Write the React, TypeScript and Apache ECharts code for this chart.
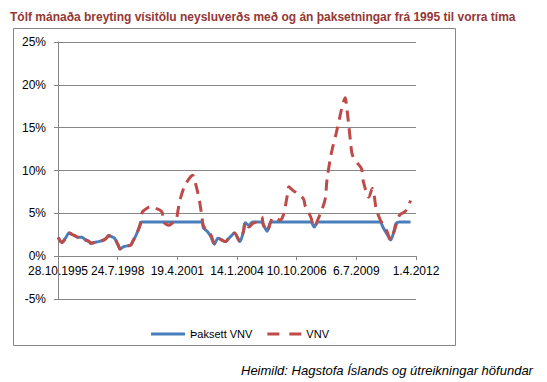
import React, { useEffect, useRef } from "react";
import * as echarts from "echarts";

const titleText =
  "Tólf mánaða breyting vísitölu neysluverðs með og án þaksetningar frá 1995 til vorra tíma";
const sourceText = "Heimild: Hagstofa Íslands og útreikningar höfundar";
const seriesNames = ["Þaksett VNV", "VNV"];
const yTicks = [-5, 0, 5, 10, 15, 20, 25];
const axisStart = "1995-10-28";
const axisEnd = "2012-04-01";
const tickStepDays = 1000;

const vnv: [string, number][] = [
  ["1995-11", 2.2], ["1996-01", 1.6], ["1996-03", 2.1], ["1996-05", 2.7], ["1996-07", 2.5],
  ["1996-08", 2.4], ["1996-10", 2.2], ["1996-12", 2.2], ["1997-02", 1.9], ["1997-04", 1.7],
  ["1997-05", 1.5], ["1997-07", 1.6], ["1997-09", 1.7], ["1997-11", 1.8], ["1998-01", 2.0],
  ["1998-03", 2.4], ["1998-04", 2.3], ["1998-06", 2.1], ["1998-08", 1.3], ["1998-09", 0.85],
  ["1998-11", 1.1], ["1999-01", 1.2], ["1999-03", 1.3], ["1999-04", 1.7], ["1999-06", 2.5],
  ["1999-08", 3.6], ["1999-09", 5.0], ["1999-10", 5.3], ["2000-02", 5.8], ["2000-04", 5.65],
  ["2000-08", 5.2], ["2000-09", 4.0], ["2000-12", 3.6], ["2001-02", 3.9], ["2001-04", 4.3],
  ["2001-05", 5.4], ["2001-06", 6.5], ["2001-08", 7.9], ["2001-09", 8.4], ["2001-12", 9.3],
  ["2002-01", 9.45], ["2002-02", 8.9], ["2002-04", 7.3], ["2002-05", 6.2], ["2002-06", 4.8],
  ["2002-07", 3.5], ["2002-09", 3.0], ["2002-11", 2.5], ["2003-01", 1.5], ["2003-03", 2.1],
  ["2003-05", 1.9], ["2003-07", 1.7], ["2003-09", 2.1], ["2003-10", 2.3], ["2003-12", 2.7],
  ["2004-03", 1.8], ["2004-05", 2.9], ["2004-06", 4.0], ["2004-08", 3.4], ["2004-10", 3.8],
  ["2004-12", 4.0], ["2005-03", 4.6], ["2005-04", 3.6], ["2005-06", 2.9], ["2005-08", 4.0],
  ["2005-09", 4.5], ["2005-11", 4.4], ["2006-01", 4.2], ["2006-03", 4.8], ["2006-05", 6.9],
  ["2006-06", 8.1], ["2006-08", 7.7], ["2006-10", 7.4], ["2007-02", 6.7], ["2007-03", 5.9],
  ["2007-06", 4.6], ["2007-08", 3.4], ["2007-10", 4.3], ["2007-12", 5.3], ["2008-02", 6.7],
  ["2008-03", 8.9], ["2008-05", 11.6], ["2008-06", 12.6], ["2008-08", 14.3], ["2008-10", 16.2],
  ["2008-11", 17.2], ["2008-12", 18.0], ["2009-01", 18.5], ["2009-02", 17.0], ["2009-03", 15.3],
  ["2009-04", 13.3], ["2009-05", 11.8], ["2009-08", 10.8], ["2009-10", 10.2], ["2009-11", 8.7],
  ["2010-02", 6.9], ["2010-04", 7.9], ["2010-05", 7.1], ["2010-06", 5.6], ["2010-08", 4.4],
  ["2010-10", 3.6], ["2010-12", 2.9], ["2011-02", 1.9], ["2011-04", 2.9], ["2011-05", 3.6],
  ["2011-07", 4.8], ["2011-10", 5.2], ["2011-12", 6.0], ["2012-01", 6.5],
];

const capped: [string, number][] = [
  ["1995-11", 2.2], ["1996-01", 1.6], ["1996-03", 2.1], ["1996-05", 2.7], ["1996-07", 2.5],
  ["1996-08", 2.4], ["1996-10", 2.2], ["1996-12", 2.2], ["1997-02", 1.9], ["1997-04", 1.7],
  ["1997-05", 1.5], ["1997-07", 1.6], ["1997-09", 1.7], ["1997-11", 1.8], ["1998-01", 2.0],
  ["1998-03", 2.4], ["1998-04", 2.3], ["1998-06", 2.1], ["1998-08", 1.3], ["1998-09", 0.85],
  ["1998-11", 1.1], ["1999-01", 1.2], ["1999-03", 1.3], ["1999-04", 1.7], ["1999-06", 2.5],
  ["1999-08", 3.6], ["1999-09", 4.0], ["2000-06", 4.0], ["2001-06", 4.0], ["2002-06", 4.0],
  ["2002-07", 3.3], ["2002-09", 2.9], ["2002-11", 2.3], ["2003-01", 1.4], ["2003-03", 2.1],
  ["2003-05", 1.9], ["2003-07", 1.7], ["2003-09", 2.1], ["2003-10", 2.3], ["2003-12", 2.7],
  ["2004-03", 1.7], ["2004-05", 2.9], ["2004-06", 3.9], ["2004-08", 3.6], ["2004-10", 4.0],
  ["2004-12", 4.0], ["2005-03", 4.0], ["2005-04", 3.7], ["2005-06", 2.9], ["2005-08", 4.0],
  ["2005-09", 4.0], ["2006-06", 4.0], ["2007-06", 4.0], ["2007-08", 3.4], ["2007-10", 4.0],
  ["2008-06", 4.0], ["2009-06", 4.0], ["2010-08", 4.0], ["2010-10", 3.3], ["2010-12", 2.6],
  ["2011-02", 1.9], ["2011-04", 3.0], ["2011-05", 3.8], ["2011-07", 4.0], ["2011-10", 4.0],
  ["2012-01", 4.0],
];

const DAY = 86400000;
const parse = (s: string) => {
  const p = s.split("-").map(Number);
  return Date.UTC(p[0], p[1] - 1, p[2] || 1);
};
const origin = parse(axisStart);
const toDays = (s: string) => (parse(s) - origin) / DAY;
const fmt = (v: number) => {
  const d = new Date(origin + Math.round(v) * DAY);
  return `${d.getUTCDate()}.${d.getUTCMonth() + 1}.${d.getUTCFullYear()}`;
};

const FONT = "'Liberation Sans', Arial, sans-serif";
const GREY = "#868686";
const BLUE = "#4A7EBB";
const RED = "#BE4B48";

const GRID_TOP = 42;
const GRID_BOTTOM = 83;
const CHART_H = 382;

export default function App() {
  const ref = useRef<HTMLDivElement>(null);
  useEffect(() => {
    if (!ref.current) return;
    const chart = echarts.init(ref.current, null, { renderer: "svg" });
    const yMin = yTicks[0];
    const yMax = yTicks[yTicks.length - 1];
    const plotH = CHART_H - GRID_TOP - GRID_BOTTOM;
    // distance from the bottom of the plot to the 0 line, from the y scale
    const zeroOffset = (plotH * (0 - yMin)) / (yMax - yMin);
    chart.setOption({
      animation: false,
      backgroundColor: "#ffffff",
      title: {
        text: titleText,
        left: 5,
        top: 6,
        textStyle: { fontFamily: FONT, fontSize: 12, fontWeight: "bold", color: "#953735" },
      },
      graphic: [
        {
          type: "rect",
          shape: { x: 13.5, y: 28.5, width: 442, height: 317 },
          style: { fill: "none", stroke: GREY, lineWidth: 1 },
          silent: true,
        },
        {
          type: "text",
          left: 241,
          top: 364,
          style: {
            text: sourceText,
            font: `italic 13px ${FONT}`,
            fill: "#000000",
          },
        },
      ],
      legend: {
        left: 146,
        top: 323.5,
        itemWidth: 34,
        itemHeight: 3,
        itemGap: 15,
        symbolKeepAspect: false,
        data: [
          { name: seriesNames[0], icon: "path://M0,0H34V3H0Z" },
          { name: seriesNames[1], icon: "path://M0,0H12V3H0Z M22,0H34V3H22Z" },
        ],
        textStyle: { fontFamily: FONT, fontSize: 11, color: "#000" },
      },
      grid: { left: 58, right: 131, top: GRID_TOP, bottom: GRID_BOTTOM },
      xAxis: {
        type: "value",
        position: "bottom",
        offset: -zeroOffset,
        min: 0,
        max: toDays(axisEnd),
        interval: tickStepDays,
        axisLine: { onZero: false, lineStyle: { color: GREY, width: 1 } },
        axisTick: { show: true, length: 4, lineStyle: { color: GREY } },
        splitLine: { show: false },
        axisLabel: {
          formatter: fmt,
          margin: 9,
          fontFamily: FONT,
          fontSize: 12,
          color: "#000",
          showMinLabel: true,
          showMaxLabel: true,
        },
      },
      yAxis: {
        type: "value",
        min: yMin,
        max: yMax,
        interval: 5,
        axisLine: { show: true, onZero: false, lineStyle: { color: GREY, width: 1 } },
        axisTick: { show: true, length: 4, lineStyle: { color: GREY } },
        splitLine: { show: true, lineStyle: { color: GREY, width: 1 } },
        axisLabel: {
          formatter: (v: number) => `${v}%`,
          margin: 12,
          fontFamily: FONT,
          fontSize: 12,
          color: "#000",
        },
      },
      series: [
        {
          name: seriesNames[0],
          type: "line",
          symbol: "none",
          smooth: 0.3,
          data: capped.map(([d, v]) => [toDays(d), v]),
          lineStyle: { color: BLUE, width: 3 },
          itemStyle: { color: BLUE },
          z: 2,
        },
        {
          name: seriesNames[1],
          type: "line",
          symbol: "none",
          smooth: 0.3,
          data: vnv.map(([d, v]) => [toDays(d), v]),
          lineStyle: { color: RED, width: 3, type: [11, 7], cap: "butt" },
          itemStyle: { color: RED },
          z: 3,
        },
      ],
    });
    return () => chart.dispose();
  }, []);
  return (
    <div
      ref={ref}
      style={{ position: "fixed", left: 0, top: 0, width: 547, height: 382, background: "#fff" }}
    />
  );
}
